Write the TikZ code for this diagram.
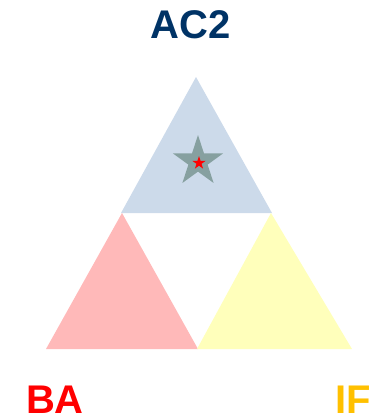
\documentclass[tikz,border=0pt]{standalone}
\usepackage{fontspec}
\setmainfont{Liberation Sans}
\usetikzlibrary{shapes.geometric}
\definecolor{topc}{HTML}{CCDAEA}
\definecolor{leftc}{HTML}{FFB9B9}
\definecolor{rightc}{HTML}{FFFFBB}
\definecolor{navy}{HTML}{003366}
\definecolor{gold}{HTML}{FFC000}
\definecolor{starc}{HTML}{86A0A0}
\tikzset{
  lbl/.style={font=\fontsize{40}{40}\selectfont\bfseries, inner sep=0pt, anchor=base},
  bigstar/.style={star, star points=5, star point ratio=2.618, fill=starc, draw=none, minimum size=53pt, inner sep=0pt},
  smallstar/.style={star, star points=5, star point ratio=2.618, fill=red, draw=none, minimum size=14pt, inner sep=0pt}
}
\begin{document}
\begin{tikzpicture}[x=1pt,y=-1pt]
\useasboundingbox (0,0) rectangle (380,416);
\coordinate (t1) at (196,77);
\coordinate (t2) at (121,213);
\coordinate (t3) at (272,213);
\coordinate (l1) at (122,213);
\coordinate (l2) at (46,349);
\coordinate (l3) at (198,349);
\coordinate (r1) at (271,213);
\coordinate (r2) at (197,349);
\coordinate (r3) at (352,349);
\fill[topc] (t1) -- (t2) -- (t3) -- cycle;
\fill[leftc] (l1) -- (l2) -- (l3) -- cycle;
\fill[rightc] (r1) -- (r2) -- (r3) -- cycle;
\node[bigstar] (s1) at (198,161.5) {};
\node[smallstar] (s2) at (199,163) {};
\node[lbl, text=navy] (ac) at (191,38) {AC2};
\node[lbl, text=red] (ba) at (55,413) {BA};
\node[lbl, text=gold] (if) at (353,413) {IF};
\end{tikzpicture}
\end{document}
